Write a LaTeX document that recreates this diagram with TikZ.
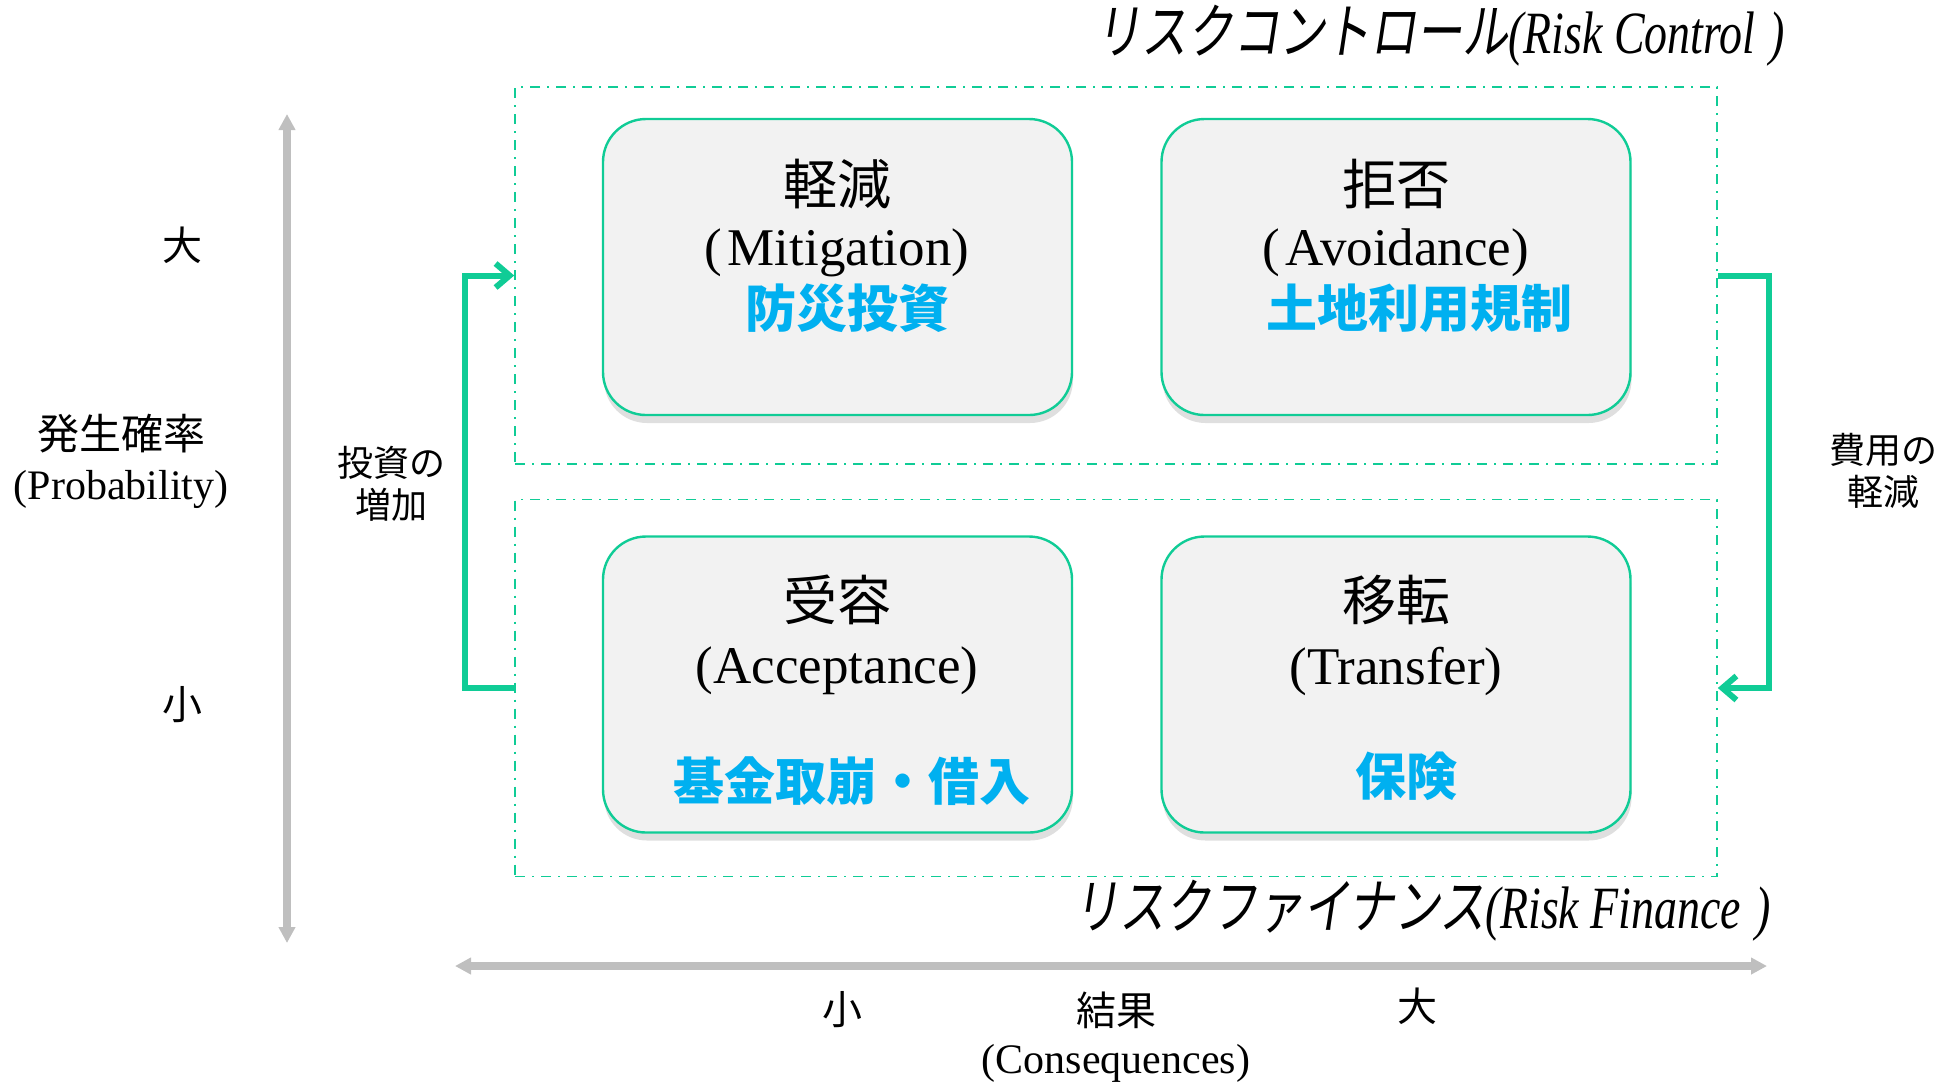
\documentclass[tikz,border=0pt]{standalone}
\usepackage{fontspec}
\setmainfont{Liberation Serif}
\newfontfamily\jp{Noto Sans CJK JP}
\newfontfamily\jpsl[FakeSlant=0.2]{Noto Sans CJK JP}
\usetikzlibrary{arrows.meta,shadows}
\definecolor{gr}{RGB}{16,204,150}
\definecolor{bl}{RGB}{0,176,240}
\definecolor{boxfill}{RGB}{242,242,242}
\definecolor{axisgray}{RGB}{191,191,191}
\begin{document}
\begin{tikzpicture}[x=0.5pt,y=-0.5pt,
  box/.style={draw=gr, line width=1.2pt, fill=boxfill, rounded corners=21.5pt,
    minimum width=234.5pt, minimum height=148pt, inner sep=0pt,
    drop shadow={shadow xshift=0.5pt, shadow yshift=-4pt, opacity=0.25}},
  zone/.style={draw=gr, line width=0.8pt, dash pattern=on 5pt off 3.5pt on 1pt off 3.5pt,
    minimum width=601pt, minimum height=188.5pt, inner sep=0pt},
  hd/.style={font=\jp\fontsize{27}{30}\selectfont, inner sep=0pt},
  eng/.style={font=\fontsize{26.5}{30}\selectfont, inner sep=0pt},
  blu/.style={font=\jp\bfseries\fontsize{25.5}{30}\selectfont, text=bl, inner sep=0pt},
  garrow/.style={draw=gr, line width=3pt, -{Straight Barb[length=7pt,width=12pt]}},
  axisline/.style={draw=axisgray, line width=4pt,
    {Triangle[length=8pt,width=8pt]}-{Triangle[length=8pt,width=8pt]}},
  lab/.style={font=\jp\fontsize{20}{24}\selectfont, inner sep=0pt},
  lab2/.style={font=\jp\fontsize{18}{21}\selectfont, align=center, inner sep=0pt},
  engs/.style={font=\fontsize{21}{24}\selectfont, inner sep=0pt},
]
\useasboundingbox (0,0) rectangle (1942,1084);

% axes
\coordinate (vtop) at (287,114);
\coordinate (vbot) at (287,943);
\coordinate (hleft) at (455,966);
\coordinate (hright) at (1767,966);
\draw[axisline] (vtop) -- (vbot);
\draw[axisline] (hleft) -- (hright);

% zones
\node[zone] (ctrl) at (1116,275.5) {};
\node[zone] (fin) at (1116,688) {};

% boxes
\node[box] (mit) at (837.5,267) {};
\node[box] (avo) at (1396,267) {};
\node[box] (acc) at (837.5,684.5) {};
\node[box] (tra) at (1396,684.5) {};

% box texts
\node[hd] (mitj) at (837,184) {軽減};
\node[eng] (mite) at (837,253) {(\hspace{0.1em}Mitigation)};
\node[blu] (mitb) at (847,308) {防災投資};

\node[hd] (avoj) at (1396,184) {拒否};
\node[eng] (avoe) at (1396,253) {(\hspace{0.1em}Avoidance)};
\node[blu] (avob) at (1419,308) {土地利用規制};

\node[hd] (accj) at (837,600) {受容};
\node[eng] (acce) at (837,671) {(Acceptance)};
\node[blu] (accb) at (852,781) {基金取崩・借入};

\node[hd] (traj) at (1396,600) {移転};
\node[eng] (trae) at (1396,671) {(Transfer)};
\node[blu] (trab) at (1406,776) {保険};

% titles
\node[inner sep=0pt] (rctitle) at (1440,36)
  {\scalebox{0.765}[1]{\fontsize{30}{34}\selectfont{\jpsl リスクコントロール}\itshape(Risk Control\hspace{0.3em})}};
\node[inner sep=0pt] (rftitle) at (1422,911)
  {\scalebox{0.765}[1]{\fontsize{30}{34}\selectfont{\jpsl リスクファイナンス}\itshape(Risk Finance\hspace{0.3em})}};

% connectors
\draw[garrow] (fin.west) -- ++(-49,0) |- (ctrl.west);
\draw[garrow] (ctrl.east) -- ++(51,0) |- (fin.east);

\node[lab2] (inv) at (391,484) {投資の\\増加};
\node[lab2] (cost) at (1883,471) {費用の\\軽減};

% left labels
\node[lab] (pbig) at (182,245) {大};
\node[lab] (psmall) at (182,705) {小};
\node[font=\jp\fontsize{21}{24}\selectfont, inner sep=0pt] (prob) at (121,434) {発生確率};
\node[engs] (probe) at (121,489) {(Probability)};

% bottom labels
\node[lab] (csmall) at (842,1010) {小};
\node[lab] (cres) at (1116,1010) {結果};
\node[lab] (cbig) at (1417,1006) {大};
\node[engs] (conse) at (1116,1063) {(Consequences)};
\end{tikzpicture}
\end{document}
